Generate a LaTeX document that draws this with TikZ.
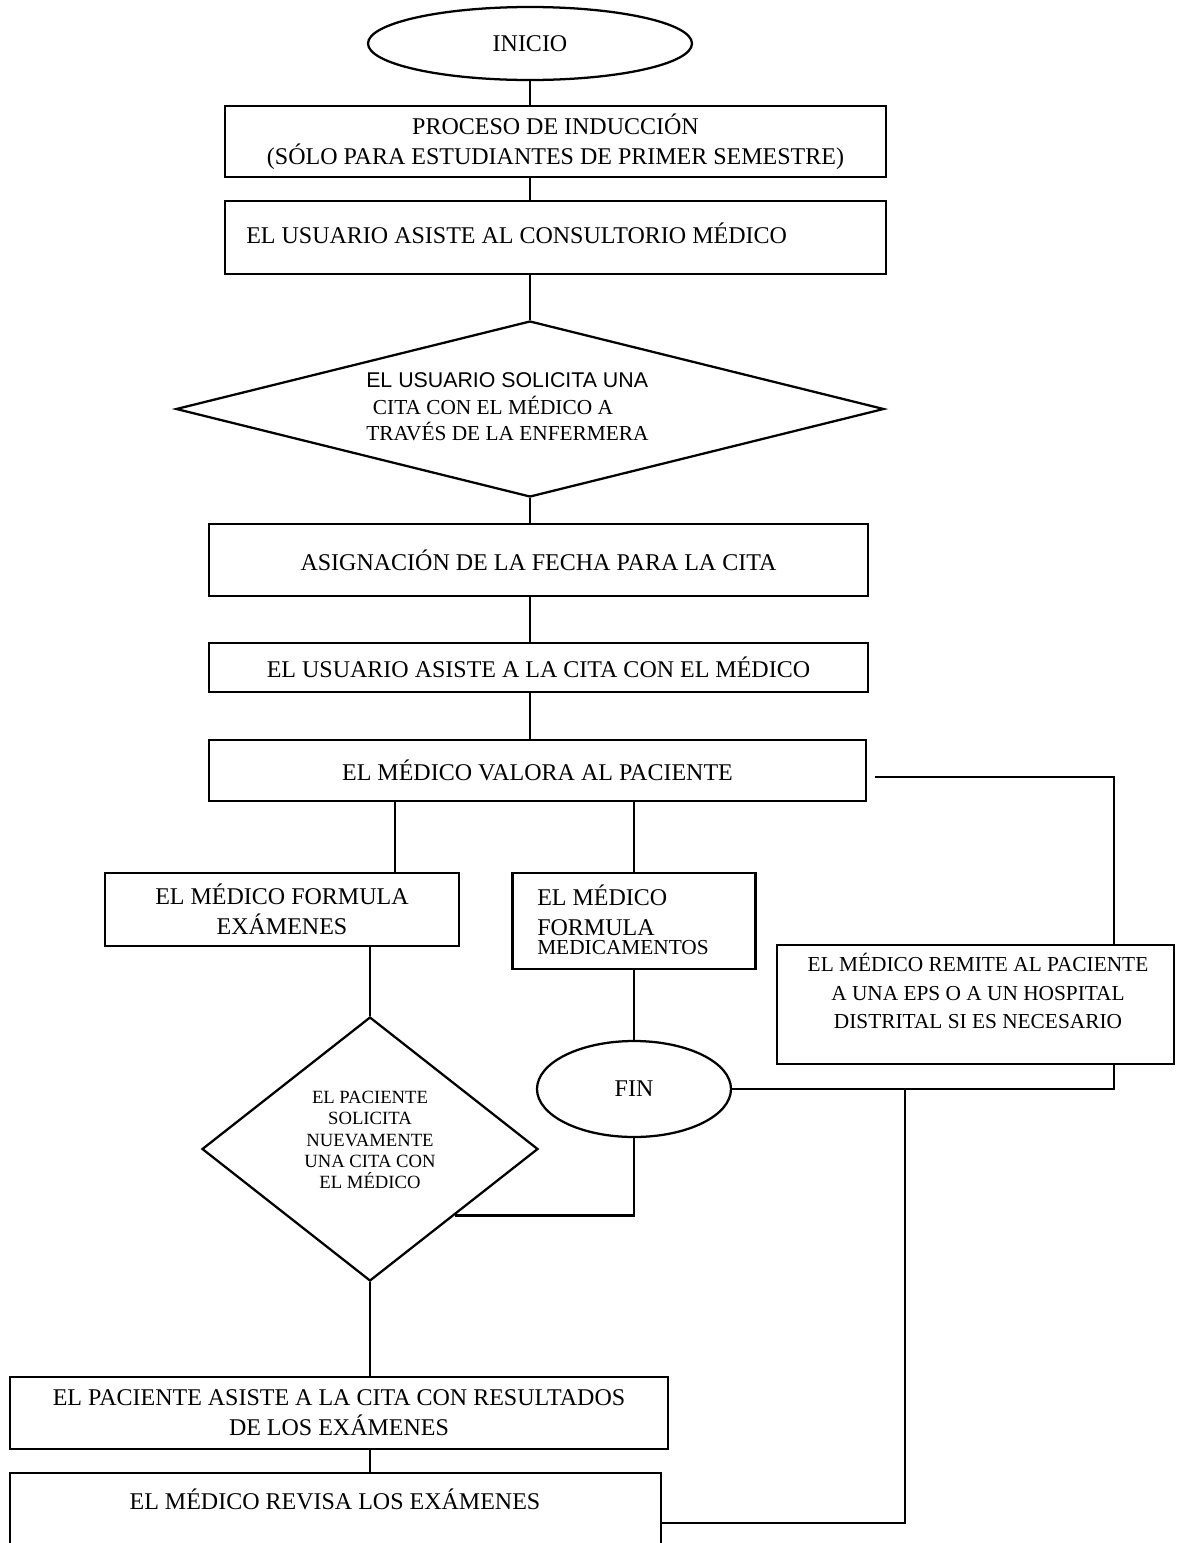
\documentclass[tikz,border=0pt]{standalone}
\usepackage{fontspec}
\setmainfont{Liberation Serif}
\newfontfamily\sansf{Liberation Sans}
\usetikzlibrary{shapes.geometric}
\begin{document}
\begin{tikzpicture}[x=0.75pt,y=-0.75pt,
  every node/.style={font=\fontsize{18}{22.5}\selectfont, inner sep=0pt},
  box/.style={draw, line width=1.7pt, rectangle, align=center},
  oval/.style={draw, line width=1.7pt, ellipse},
  dmd/.style={draw, line width=1.7pt, diamond},
  conn/.style={line width=1.7pt}]
\useasboundingbox (0,0) rectangle (1177,1543);
\fill[white] (0,0) rectangle (1177,1543);
\clip (0,0) rectangle (1177,1543);
\coordinate (spine) at (530,0);
\coordinate (c6) at (395,0);
\coordinate (rx) at (1114,0);
\coordinate (jx) at (905,0);
\coordinate (r1) at (875,777);

\node[oval, minimum width=243pt, minimum height=54.75pt] (inicio) at (530,43.5) {INICIO};
\node[box, minimum width=495.75pt, minimum height=53.25pt] (b1) at (555.5,141.5) {PROCESO DE INDUCCIÓN\\(SÓLO PARA ESTUDIANTES DE PRIMER SEMESTRE)};
\node[box, minimum width=495.75pt, minimum height=54.75pt] (b2) at (555.5,237.5) {};
\node[anchor=west] (b2t) at (246,233) {EL USUARIO ASISTE AL CONSULTORIO MÉDICO};
\node[dmd, minimum width=531pt, minimum height=132pt] (d1) at (530,409) {};
\node[anchor=west, align=left, font=\fontsize{16}{20}\selectfont] (d1t) at (366,407) {{\sansf EL USUARIO SOLICITA UNA}\\\hspace*{5pt}CITA CON EL MÉDICO A\\TRAVÉS DE LA ENFERMERA};
\node[box, minimum width=494.25pt, minimum height=54pt] (b3) at (538.5,560) {ASIGNACIÓN DE LA FECHA PARA LA CITA};
\node[box, minimum width=494.25pt, minimum height=36.75pt] (b4) at (538.5,667.5) {EL USUARIO ASISTE A LA CITA CON EL MÉDICO};
\node[box, minimum width=492.75pt, minimum height=45.75pt] (b5) at (537.5,770.5) {EL MÉDICO VALORA AL PACIENTE};
\node[box, minimum width=265.5pt, minimum height=54.75pt] (b6) at (282,909.5) {EL MÉDICO FORMULA\\EXÁMENES};
\node[box, minimum width=182.25pt, minimum height=72pt] (b7) at (634,921) {};
\node[anchor=west, align=left] (b7t) at (537,920) {EL MÉDICO\\FORMULA\\[-8pt]{\fontsize{16}{18}\selectfont MEDICAMENTOS}};
\node[box, minimum width=297.75pt, minimum height=89.25pt] (b8) at (975.5,1004.5) {};
\node[align=center, font=\fontsize{16}{21.4}\selectfont] (b8t) at (978,991) {EL MÉDICO REMITE AL PACIENTE\\A UNA EPS O A UN HOSPITAL\\DISTRITAL SI ES NECESARIO};
\node[oval, minimum width=145.5pt, minimum height=72pt] (fin) at (634,1089) {FIN};
\node[dmd, minimum width=252pt, minimum height=198pt] (d2) at (370,1149) {};
\node[align=center, font=\fontsize{14}{16}\selectfont] (d2t) at (370,1140) {EL PACIENTE\\SOLICITA\\NUEVAMENTE\\UNA CITA CON\\EL MÉDICO};
\node[box, minimum width=493.5pt, minimum height=54pt] (b9) at (339,1413) {EL PACIENTE ASISTE A LA CITA CON RESULTADOS\\DE LOS EXÁMENES};
\node[box, minimum width=488.25pt, minimum height=75pt] (b10) at (335.5,1523) {};
\node (b10t) at (335,1499) {EL MÉDICO REVISA LOS EXÁMENES};

\draw[conn] (inicio.south) -- (inicio.south |- b1.north);
\draw[conn] (b1.south -| spine) -- (b2.north -| spine);
\draw[conn] (b2.south -| spine) -- (d1.north);
\draw[conn] (d1.south) -- (b3.north -| d1.south);
\draw[conn] (b3.south -| spine) -- (b4.north -| spine);
\draw[conn] (b4.south -| spine) -- (b5.north -| spine);
\draw[conn] (b5.south -| c6) -- (b6.north -| c6);
\draw[conn] (b5.south -| b7.north) -- (b7.north);
\draw[conn] (r1) -| (b8.north -| rx);
\draw[conn] (b6.south -| d2.north) -- (d2.north);
\draw[conn] (b7.south) -- (fin.north);
\draw[conn] (fin.south) |- (d2.south east);
\draw[conn] (b8.south -| rx) |- (fin.east);
\draw[conn] (fin.east -| jx) |- (b10.east);
\draw[conn] (d2.south) -- (b9.north -| d2.south);
\draw[conn] (b9.south -| d2.south) -- (b10.north -| d2.south);
\end{tikzpicture}
\end{document}
